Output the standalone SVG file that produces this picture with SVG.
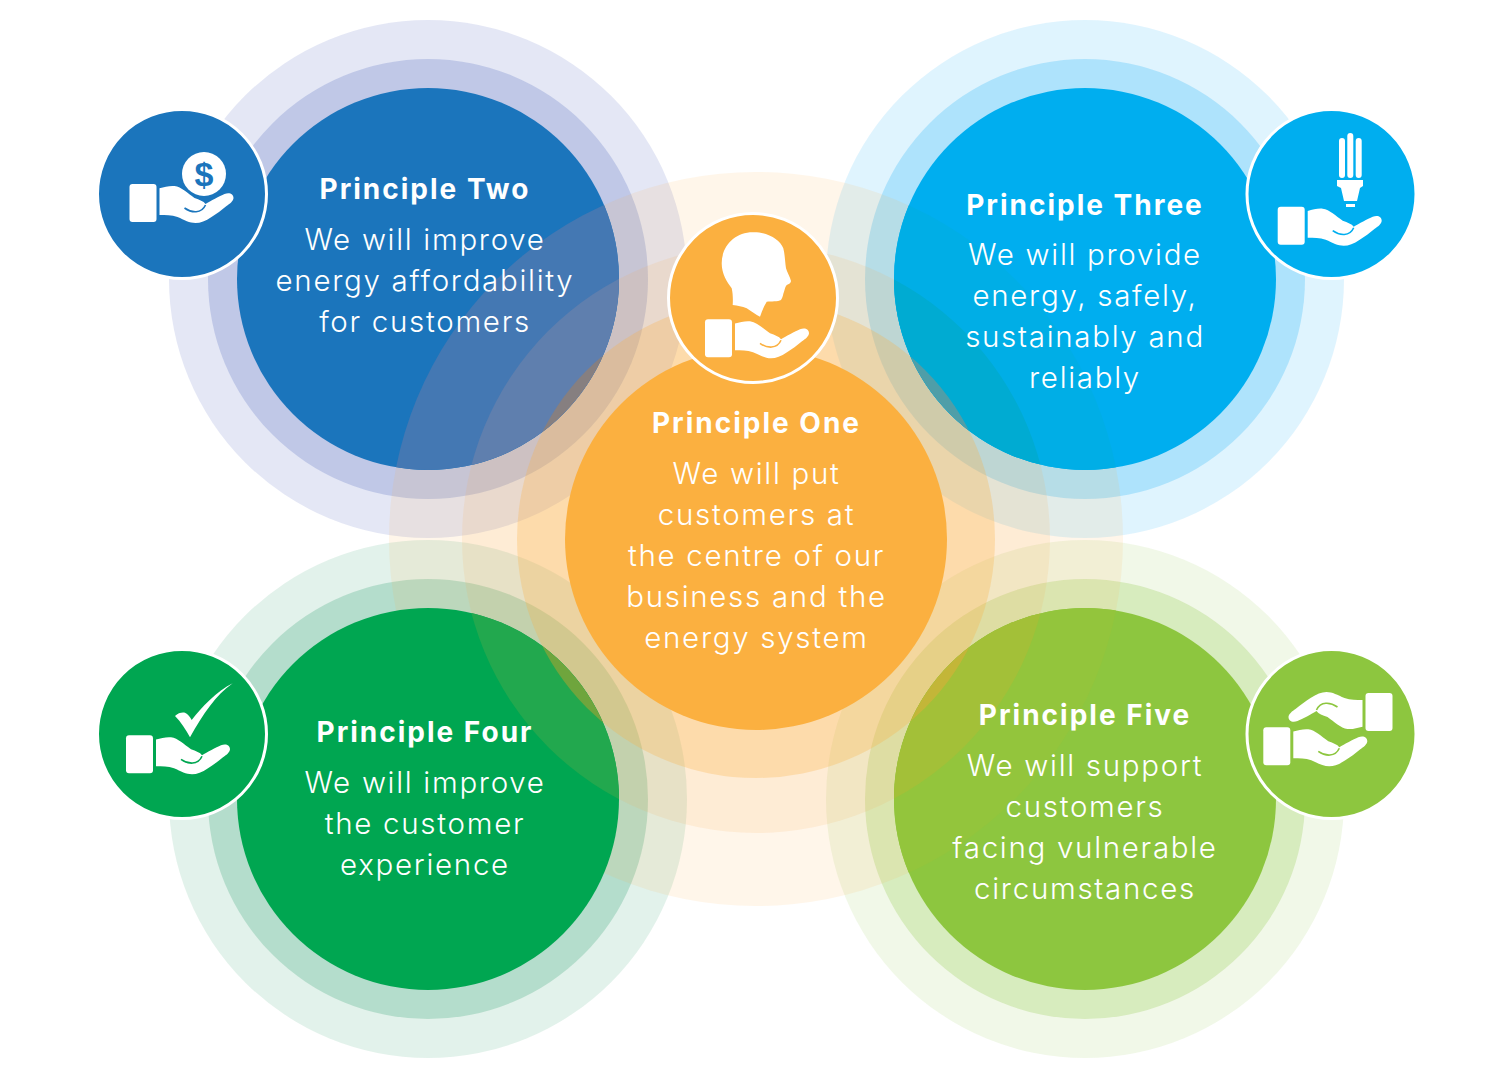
<svg xmlns="http://www.w3.org/2000/svg" width="1500" height="1072" viewBox="0 0 1500 1072">
<style>
.t{font-family:Inter,"Liberation Sans",sans-serif;fill:#fff;text-anchor:middle}
.h{font-size:28px;font-weight:700;letter-spacing:2px}
.b{font-size:29.5px;font-weight:300;letter-spacing:1.7px}
.w{fill:#fff}
.ring-o{fill:#fbb040;opacity:.11}
.ring-o2{fill:#fba850;opacity:.13}
.ring-o3{fill:#fbb040;opacity:.28}
.bo{fill:#1e3caa;opacity:.12}.bm{fill:#1e3caa;opacity:.18}
.co{fill:#00aaf5;opacity:.125}.cm{fill:#00aaf5;opacity:.22}
.go{fill:#008c50;opacity:.115}.gm{fill:#008c50;opacity:.2}
.lo{fill:#8dc63f;opacity:.12}.lm{fill:#8dc63f;opacity:.25}
.badge{stroke:#fff;stroke-width:3}
</style>
<defs>
<clipPath id="cb"><circle cx="428" cy="279" r="191"/></clipPath>
<clipPath id="cc"><circle cx="1085" cy="279" r="191"/></clipPath>
<clipPath id="cg"><circle cx="428" cy="799" r="191"/></clipPath>
<clipPath id="cl"><circle cx="1085" cy="799" r="191"/></clipPath>
<g id="hand">
<rect width="27" height="38" rx="3" fill="#fff"/>
<path fill="#fff" d="M30 4.3C35 3 40 1.5 45 2C52 3 58 9 65 14C70 16 74 17 76 20C81 17 90 12 95 10C100 8 104 10 104 14C104 17 100 20 97 22C92 26 87 30 82 33C76 37 71 39 66 39C60 39 55 36 48 33C42 31 36 31 30 31Z"/>
<path fill="none" stroke="currentColor" stroke-width="1.6" d="M55 24C62 29 72 30 76 21"/>
</g>
</defs>
<rect width="1500" height="1072" fill="#fff"/>
<g id="rings">
<circle class="bo" cx="428" cy="279" r="259"/><circle class="bm" cx="428" cy="279" r="220"/>
<circle class="co" cx="1085" cy="279" r="259"/><circle class="cm" cx="1085" cy="279" r="220"/>
<circle class="go" cx="428" cy="799" r="259"/><circle class="gm" cx="428" cy="799" r="220"/>
<circle class="lo" cx="1085" cy="799" r="259"/><circle class="lm" cx="1085" cy="799" r="220"/>
<circle class="ring-o" cx="756" cy="539" r="367"/>
<circle class="ring-o2" cx="756" cy="539" r="294"/>
<circle class="ring-o3" cx="756" cy="539" r="239"/>
</g>
<g id="principle-two">
<circle cx="428" cy="279" r="191" fill="#1b75bc"/>
<g clip-path="url(#cb)"><circle cx="756" cy="539" r="367" fill="#4478b3"/><circle cx="756" cy="539" r="294" fill="#5f7fae"/><circle cx="756" cy="539" r="239" fill="#867f80"/></g>
<text class="t h" x="425" y="199">Principle Two</text>
<text class="t b" x="425" y="250">We will improve</text>
<text class="t b" x="425" y="291">energy affordability</text>
<text class="t b" x="425" y="332">for customers</text>
<circle class="badge" cx="182" cy="194" r="84.5" fill="#1b75bc"/>
<use href="#hand" x="129.5" y="184" color="#1b75bc"/>
<circle class="w" cx="204" cy="174" r="22"/>
<text x="204" y="186" font-family="Liberation Sans,sans-serif" font-weight="700" font-size="34" text-anchor="middle" fill="#1b75bc">$</text>
</g>
<g id="principle-three">
<circle cx="1085" cy="279" r="191" fill="#00aeef"/>
<g clip-path="url(#cc)"><circle cx="756" cy="539" r="367" fill="#00aee6"/><circle cx="756" cy="539" r="294" fill="#00abd2"/><circle cx="756" cy="539" r="239" fill="#4f9ea8"/></g>
<text class="t h" x="1085" y="215">Principle Three</text>
<text class="t b" x="1085" y="265">We will provide</text>
<text class="t b" x="1085" y="306">energy, safely,</text>
<text class="t b" x="1085" y="347">sustainably and</text>
<text class="t b" x="1085" y="388">reliably</text>
<circle class="badge" cx="1331.5" cy="194" r="84.5" fill="#00aeef"/>
<use href="#hand" x="1277.7" y="206.7" color="#00aeef"/>
<g class="w">
<rect x="1339" y="138" width="6" height="40" rx="3"/><rect x="1347.3" y="133" width="6" height="45" rx="3"/><rect x="1355.7" y="138" width="6" height="40" rx="3"/>
<path d="M1337 180H1363V186L1360 188L1357 201H1344L1341 188L1337 186Z"/>
<rect x="1346" y="204" width="9" height="3"/>
</g>
</g>
<g id="principle-four">
<circle cx="428" cy="799" r="191" fill="#00a651"/>
<g clip-path="url(#cg)"><circle cx="756" cy="539" r="294" fill="#22a84e"/><circle cx="756" cy="539" r="239" fill="#6fa53d"/></g>
<text class="t h" x="425" y="742">Principle Four</text>
<text class="t b" x="425" y="793">We will improve</text>
<text class="t b" x="425" y="834">the customer</text>
<text class="t b" x="425" y="875">experience</text>
<circle class="badge" cx="182" cy="734" r="84.5" fill="#00a651"/>
<use href="#hand" x="126" y="735.3" color="#00a651"/>
<path class="w" d="M232.7 683.3C216 695 203 714 190 737.3C186 730 181 722 175 716C178 713 182 712 185 712.7C188 714 190 717 191.7 720C201 708 217 691 232.7 683.3Z"/>
</g>
<g id="principle-five">
<circle cx="1085" cy="799" r="191" fill="#8dc63f"/>
<g clip-path="url(#cl)"><circle cx="756" cy="539" r="367" fill="#93c53c"/><circle cx="756" cy="539" r="294" fill="#a3c038"/><circle cx="756" cy="539" r="239" fill="#c3b638"/></g>
<text class="t h" x="1085" y="725">Principle Five</text>
<text class="t b" x="1085" y="776">We will support</text>
<text class="t b" x="1085" y="817">customers</text>
<text class="t b" x="1085" y="858">facing vulnerable</text>
<text class="t b" x="1085" y="899">circumstances</text>
<circle class="badge" cx="1331.5" cy="734" r="84.5" fill="#8dc63f"/>
<use href="#hand" x="1263.3" y="727.3" color="#8dc63f"/>
<use href="#hand" transform="translate(1392.5 731) scale(-1 -1)" color="#8dc63f"/>
</g>
<g id="principle-one">
<circle cx="756" cy="539" r="191" fill="#fbb040"/>
<text class="t h" x="756.5" y="433">Principle One</text>
<text class="t b" x="756.5" y="484">We will put</text>
<text class="t b" x="756.5" y="525">customers at</text>
<text class="t b" x="756.5" y="566">the centre of our</text>
<text class="t b" x="756.5" y="607">business and the</text>
<text class="t b" x="756.5" y="648">energy system</text>
<circle class="badge" cx="753" cy="298" r="84.5" fill="#fbb040"/>
<use href="#hand" x="705" y="319.3" color="#fbb040"/>
<path class="w" d="M753.3 232.3C735 232 721.7 246 721.7 263.3C721.7 274 727 282 731.7 288.3C733 294 733 300 732.7 305C738 306 742 306 746.7 308.3C751 311 756 315 760 316.7C762 311 764 306 766.7 301.7C771 301 778 302 781 300C783 297 783 294 784 291.7C785 289 785 287 786.7 285C789 284 791 283 791 281C790 277 787 272 786 268.3C785 262 785 255 783.3 248.3C780 240 768 232 753.3 232.3Z"/>
</g>
</svg>
